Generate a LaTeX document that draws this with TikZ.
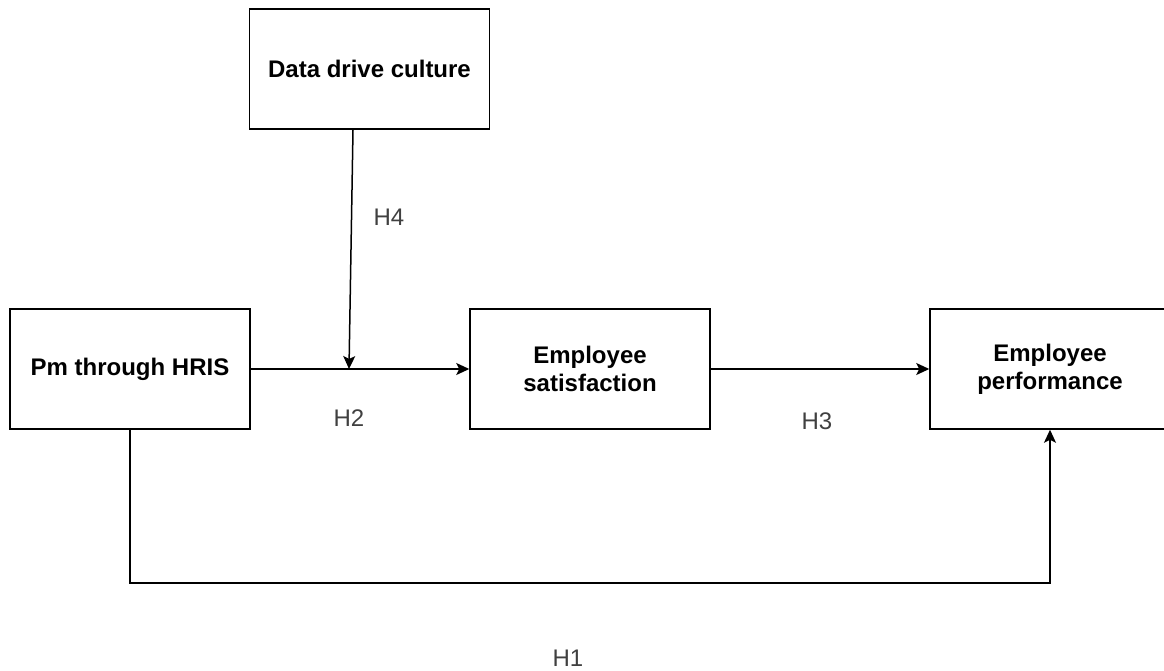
\documentclass[tikz,border=0pt]{standalone}
\usepackage{fontspec}
\setmainfont{Liberation Sans}
\usetikzlibrary{arrows.meta,positioning}

\begin{document}
\begin{tikzpicture}[
  x=1pt,y=-1pt,
  node distance=218.5pt,
  box/.style={draw,line width=1.5pt,minimum width=240pt,minimum height=120pt,
    align=center,font=\fontsize{24}{28}\selectfont\bfseries},
  arr/.style={-{Stealth[length=13pt,width=12pt,inset=3pt]},line width=1.5pt},
  hyp/.style={font=\fontsize{24}{28}\selectfont,text=black!75}
]
\useasboundingbox (0,0) rectangle (1164,670);
\node[box] (hris) at (130,369) {Pm through HRIS};
\node[box,right=of hris] (satis) {Employee\\satisfaction};
\node[box,right=of satis] (perf) {Employee\\performance};
\node[box] (culture) at (369.5,69) {Data drive culture};
\coordinate (mod) at (349,369);
\draw[line width=1.5pt] (hris) -- (mod);
\draw[arr] (mod) -- (satis);
\draw[arr] ([xshift=-16.5pt]culture.south) -- (mod);
\draw[arr] (satis) -- (perf);
\draw[arr] (hris.south) -- ++(0,153) -| (perf.south);
% hypothesis labels
\node[hyp] (h4) at (389,217) {H4};
\node[hyp] (h2) at (349,418) {H2};
\node[hyp] (h3) at (817,421) {H3};
\node[hyp] (h1) at (568,658) {H1};
\end{tikzpicture}
\end{document}
